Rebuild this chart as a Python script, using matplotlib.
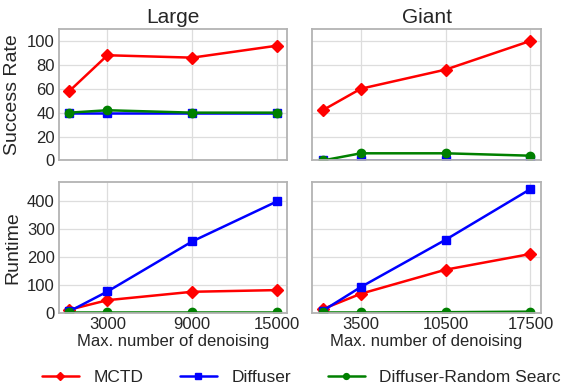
import matplotlib
matplotlib.use("Agg")
import matplotlib.pyplot as plt

plt.style.use("seaborn-v0_8-whitegrid")
plt.rcParams["font.family"] = ["Liberation Sans", "DejaVu Sans"]

# ---- data ----
x_large = [300, 3000, 9000, 15000]
x_giant = [350, 3500, 10500, 17500]
ticks_large = [3000, 9000, 15000]
ticks_giant = [3500, 10500, 17500]

sr_large_mctd = [58, 88, 86, 96]
sr_large_diff = [40, 40, 40, 40]
sr_large_rand = [40, 42, 40, 40]
sr_giant_mctd = [42, 60, 76, 100]
sr_giant_diff = [0, 0, 0, 0]
sr_giant_rand = [0, 6, 6, 4]

rt_large_mctd = [12, 46, 76, 82]
rt_large_diff = [6, 77, 256, 399]
rt_large_rand = [2, 2, 2, 2]
rt_giant_mctd = [14, 69, 155, 211]
rt_giant_diff = [8, 93, 262, 443]
rt_giant_rand = [2, 2, 3, 5]

labels = ["MCTD", "Diffuser", "Diffuser-Random Search"]
colors = ["red", "blue", "green"]
markers = ["D", "s", "o"]

fig, axes = plt.subplots(2, 2, figsize=(5.61, 3.86), dpi=100, sharex="col", sharey="row")
fig.subplots_adjust(left=0.105, right=0.964, bottom=0.189, top=0.925, wspace=0.109, hspace=0.16)

data = {
    (0, 0): (x_large, [sr_large_mctd, sr_large_diff, sr_large_rand]),
    (0, 1): (x_giant, [sr_giant_mctd, sr_giant_diff, sr_giant_rand]),
    (1, 0): (x_large, [rt_large_mctd, rt_large_diff, rt_large_rand]),
    (1, 1): (x_giant, [rt_giant_mctd, rt_giant_diff, rt_giant_rand]),
}

handles = []
for (r, c), (xs, series) in data.items():
    ax = axes[r, c]
    for ys, lab, col, mk in zip(series, labels, colors, markers):
        h, = ax.plot(xs, ys, color=col, marker=mk, markersize=6,
                     linewidth=1.8, label=lab)
        if r == 0 and c == 0:
            handles.append(h)
    for sp in ax.spines.values():
        sp.set_visible(True)
        sp.set_color("#b3b3b3")
        sp.set_linewidth(1.3)
    ax.grid(True, color="#dddddd", linewidth=0.9)
    ax.tick_params(labelsize=12, colors="#262626", length=0, pad=3)

axes[0, 0].set_ylim(0, 110)
axes[0, 0].set_yticks([0, 20, 40, 60, 80, 100])
axes[1, 0].set_ylim(0, 470)
axes[1, 0].set_yticks([0, 100, 200, 300, 400])
axes[1, 0].set_xticks(ticks_large)
axes[1, 1].set_xticks(ticks_giant)
axes[1, 0].set_xticklabels([str(t) for t in ticks_large])
axes[1, 1].set_xticklabels([str(t) for t in ticks_giant])

axes[0, 0].set_title("Large", fontsize=15, color="#262626", pad=4)
axes[0, 1].set_title("Giant", fontsize=15, color="#262626", pad=4)
axes[0, 0].set_ylabel("Success Rate", fontsize=14, color="#262626", labelpad=4)
axes[1, 0].set_ylabel("Runtime", fontsize=14, color="#262626", labelpad=4)
axes[1, 0].set_xlabel("Max. number of denoising", fontsize=12, color="#262626", labelpad=1)
axes[1, 1].set_xlabel("Max. number of denoising", fontsize=12, color="#262626", labelpad=1)

fig.legend(handles=handles, loc="center", bbox_to_anchor=(0.546, 0.021), ncol=3,
           frameon=False, fontsize=12.5, markerscale=0.7, handlelength=2.13,
           handletextpad=0.85, columnspacing=2.1)

fig.savefig("out.png", dpi=100)
